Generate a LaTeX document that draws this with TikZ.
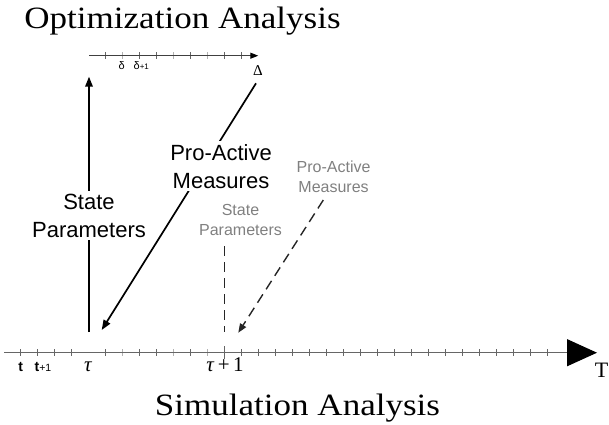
\documentclass[tikz,border=0pt]{standalone}
\usepackage{fontspec}
\setmainfont{Liberation Serif}
\setsansfont{Liberation Sans}
\usetikzlibrary{arrows.meta}
\begin{document}
\begin{tikzpicture}[x=1pt,y=-1pt,
  axisline/.style={draw=black!60,line width=1.1pt},
  tickmark/.style={draw=black!60,line width=0.9pt},
  faintmark/.style={draw=black!30,line width=0.9pt},
  mainarrow/.style={draw=black,line width=1.7pt},
  grayline/.style={draw=black!85,line width=1.4pt,dash pattern=on 10pt off 6pt},
  bigtxt/.style={font=\sffamily\fontsize{22}{28}\selectfont,align=center,fill=white,inner sep=3pt},
  graytxt/.style={font=\sffamily\fontsize{16}{20.5}\selectfont,align=center,text=black!50,inner sep=1pt},
  titletxt/.style={font=\fontsize{31}{33}\selectfont,inner sep=0pt,anchor=base},
  smalllbl/.style={inner sep=0pt,anchor=base}]
\useasboundingbox (0,0) rectangle (609,424);

% titles
\node[titletxt] (opt) at (182.5,28.3) {\scalebox{1.13}[1]{Optimization Analysis}};
\node[titletxt] (sim) at (297.5,415) {\scalebox{1.13}[1]{Simulation Analysis}};

% bottom axis
\coordinate (b0) at (4,352.7);
\coordinate (bend) at (597,352.7);
\foreach \k in {0,1,2,3,5,7,8,10,13,14,15,16,17,18,19,20,21,22,23,24,25,26,27,28,29,30,31}
  \draw[tickmark] ({20.7+17*\k},349.2) -- ({20.7+17*\k},356.2);
\foreach \k in {6,9,11}
  \draw[faintmark] ({20.7+17*\k},349.2) -- ({20.7+17*\k},356.2);
\draw[tickmark] (224.5,346) -- (224.5,359);
\draw[axisline,-{Triangle[length=30pt,width=27pt,color=black]}] (b0) -- (bend);
\node[smalllbl,font=\rmfamily\fontsize{22}{22}\selectfont] (T) at (601.5,377) {T};

% bottom axis labels
\node[smalllbl,font=\sffamily\bfseries\fontsize{14}{14}\selectfont] (t0) at (20.7,371.7) {t};
\node[smalllbl,anchor=base west,font=\sffamily\bfseries\fontsize{14}{14}\selectfont] (t1) at (34.5,371.7) {t{\mdseries\fontsize{10.5}{10.5}\selectfont+1}};
\node[smalllbl,font=\rmfamily\fontsize{21}{21}\selectfont] (tau) at (88.3,371) {\textit{τ}};
\node[smalllbl,font=\rmfamily\fontsize{21}{21}\selectfont] (tau1) at (225,371) {\textit{τ}\,+\,1};

% top axis
\coordinate (a0) at (89.3,55.7);
\coordinate (aend) at (258.3,55.7);
\foreach \k in {5,7,8,10,12,13}
  \draw[tickmark] ({20.7+17*\k},52.2) -- ({20.7+17*\k},59.2);
\foreach \k in {6,9,11}
  \draw[faintmark] ({20.7+17*\k},52.2) -- ({20.7+17*\k},59.2);
\draw[axisline,draw=black!75,-{Triangle[length=8pt,width=6pt,color=black]}] (a0) -- (aend);
\node[smalllbl,font=\sffamily\fontsize{11}{11}\selectfont] (d0) at (121.7,69.5) {δ};
\node[smalllbl,anchor=base west,font=\sffamily\fontsize{11}{11}\selectfont] (d1) at (133.5,69.5) {δ{\fontsize{8}{8}\selectfont+1}};
\node[smalllbl,font=\rmfamily\fontsize{15}{15}\selectfont] (Delta) at (258,75.5) {Δ};

% state parameters (black)
\coordinate (spbot) at (89,332);
\coordinate (sptop) at (89,76.7);
\draw[mainarrow,-{Triangle[length=10pt,width=7.5pt]}] (spbot) -- (sptop);
\node[bigtxt] (sp) at (89,215.5) {State\\Parameters};

% pro-active measures (black)
\coordinate (pastart) at (256,83.3);
\coordinate (patip) at (101.7,330);
\draw[mainarrow,-{Triangle[length=10pt,width=7.5pt]}] (pastart) -- (patip);
\node[bigtxt] (pa) at (221,166.2) {Pro-Active\\Measures};

% state parameters (gray, dashed)
\node[graytxt] (sp2) at (240.5,220.2) {State\\Parameters};
\coordinate (sp2top) at (224.5,246);
\coordinate (sp2bot) at (224.5,332);
\draw[grayline] (sp2top) -- (sp2bot);

% pro-active measures (gray, dashed)
\node[graytxt] (pa2) at (333.6,177) {Pro-Active\\Measures};
\coordinate (pa2start) at (323.3,200);
\coordinate (pa2tip) at (238.3,332.7);
\draw[grayline,-{Triangle[length=9pt,width=7pt]}] (pa2start) -- (pa2tip);
\end{tikzpicture}
\end{document}
